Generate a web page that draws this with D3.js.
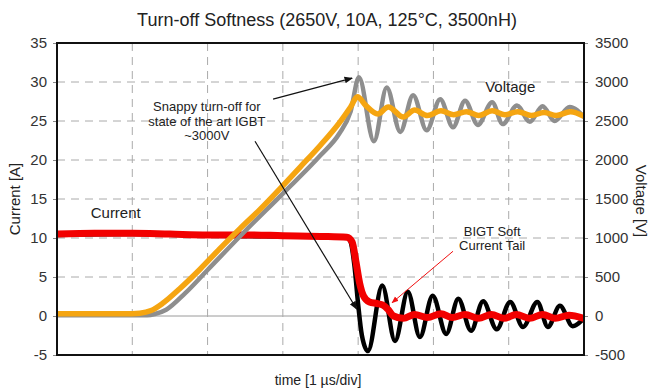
<!DOCTYPE html>
<html>
<head>
<meta charset="utf-8">
<script src="https://cdn.jsdelivr.net/npm/d3@7"></script>
<style>
  body { margin: 0; background: #fff; }
  svg { display: block; font-family: "Liberation Sans", Arial, sans-serif; }
</style>
</head>
<body>
<div id="chart"></div>
<script>
// ===============================================
// TURN-OFF SOFTNESS: BIGT vs state of the art IGBT
// ===============================================

// time axis, 1 us per division
const timeDivs = [0, 1, 2, 3, 4, 5, 6, 7];
const currentTicks = [-5, 0, 5, 10, 15, 20, 25, 30, 35];
const voltageTicks = [-500, 0, 500, 1000, 1500, 2000, 2500, 3000, 3500];

// IGBT voltage (grey), us / V
const igbtVoltT = [0, 1.2, 1.3, 1.45, 1.7, 2.0, 2.5, 3.0, 3.5, 3.75, 3.9, 4.01, 4.21, 4.38, 4.56, 4.73, 4.91, 5.09, 5.26, 5.42, 5.59, 5.78, 5.92, 6.11, 6.28, 6.45, 6.61, 6.81, 7.0];
const igbtVoltV = [10, 10, 25, 80, 290, 590, 1090, 1570, 2060, 2340, 2620, 3060, 2240, 2930, 2360, 2830, 2380, 2780, 2420, 2760, 2450, 2740, 2460, 2700, 2490, 2690, 2500, 2680, 2550];

// BIGT voltage (orange), us / V
const bigtVoltT = [0, 0.5, 1.0, 1.1, 1.25, 1.4, 1.63, 1.9, 2.16, 2.43, 2.7, 2.96, 3.23, 3.49, 3.76, 3.9, 3.99, 4.1, 4.26, 4.4, 4.6, 4.75, 4.92, 5.1, 5.27, 5.44, 5.6, 5.78, 5.95, 6.12, 6.3, 6.47, 6.63, 6.82, 7.0];
const bigtVoltV = [30, 30, 30, 35, 70, 160, 350, 600, 860, 1120, 1370, 1630, 1910, 2180, 2490, 2680, 2810, 2700, 2590, 2680, 2550, 2640, 2570, 2630, 2580, 2620, 2570, 2630, 2580, 2620, 2570, 2610, 2570, 2620, 2560];

// IGBT current (black), us / A
const igbtCurrT = [0, 1, 2, 3, 3.85, 3.9, 3.95, 4.0, 4.05, 4.13, 4.32, 4.49, 4.66, 4.82, 4.99, 5.17, 5.33, 5.5, 5.66, 5.84, 6.02, 6.19, 6.38, 6.52, 6.68, 6.85, 7.0];
const igbtCurrA = [10.4, 10.5, 10.3, 10.2, 10.1, 9.5, 6.5, 1.5, -2.5, -4.5, 3.9, -3.2, 3.1, -2.7, 2.6, -2.3, 2.2, -1.9, 1.9, -1.7, 1.8, -1.4, 1.8, -1.4, 1.3, -1.3, -0.3];

// BIGT current (red), us / A
const bigtCurrT = [0, 0.5, 1.0, 1.5, 2.0, 2.5, 3.0, 3.5, 3.85, 3.92, 3.97, 4.02, 4.07, 4.15, 4.25, 4.33, 4.4, 4.47, 4.6, 4.75, 4.92, 5.1, 5.25, 5.42, 5.6, 5.77, 5.94, 6.1, 6.28, 6.45, 6.62, 6.8, 7.0];
const bigtCurrA = [10.5, 10.6, 10.6, 10.5, 10.4, 10.4, 10.3, 10.2, 10.1, 9.5, 7.0, 4.2, 2.6, 1.8, 1.6, 1.4, 0.8, 0.0, -0.3, 0.2, -0.2, 0.3, -0.2, 0.2, -0.3, 0.2, -0.3, 0.2, -0.3, 0.2, -0.3, 0.1, -0.3];

(function() {
  'use strict';

  const width = 650;
  const height = 389;
  const margin = { top: 43, right: 66, bottom: 34, left: 57 };

  const svg = d3.select("#chart")
    .append("svg")
    .attr("width", width)
    .attr("height", height);

  const x = d3.scaleLinear().domain([0, 7]).range([margin.left, width - margin.right]);
  const yI = d3.scaleLinear().domain([-5, 35]).range([height - margin.bottom, margin.top]);
  const yV = d3.scaleLinear().domain([-500, 3500]).range([height - margin.bottom, margin.top]);

  // Arrowheads
  const defs = svg.append("defs");
  [["arrow-black", "#111"], ["arrow-red", "#f01010"]].forEach(([id, col]) => {
    defs.append("marker")
      .attr("id", id)
      .attr("viewBox", "0 0 10 10")
      .attr("refX", 9).attr("refY", 5)
      .attr("markerWidth", 7).attr("markerHeight", 7)
      .attr("orient", "auto")
      .append("path")
      .attr("d", "M0,1 L10,5 L0,9 z")
      .attr("fill", col);
  });
  defs.append("clipPath").attr("id", "plot-clip")
    .append("rect")
    .attr("x", margin.left).attr("y", margin.top)
    .attr("width", width - margin.left - margin.right)
    .attr("height", height - margin.top - margin.bottom);

  // Grid
  const grid = svg.append("g");
  grid.selectAll("line.h")
    .data(currentTicks.filter(d => d > -5 && d < 35))
    .join("line")
    .attr("x1", x(0)).attr("x2", x(7))
    .attr("y1", d => yI(d)).attr("y2", d => yI(d))
    .attr("stroke", d => d === 0 ? "#9a9a9a" : "#aaa")
    .attr("stroke-width", 1)
    .attr("stroke-dasharray", d => d === 0 ? null : "8,6");
  grid.selectAll("line.v")
    .data(timeDivs.filter(d => d > 0 && d < 7))
    .join("line")
    .attr("x1", d => x(d)).attr("x2", d => x(d))
    .attr("y1", yI(35)).attr("y2", yI(-5))
    .attr("stroke", "#aaa")
    .attr("stroke-width", 1)
    .attr("stroke-dasharray", "8,6");

  // Axes
  const fmt = d => String(d);
  const leftAxis = svg.append("g")
    .attr("transform", `translate(${margin.left},0)`)
    .call(d3.axisLeft(yI).tickValues(currentTicks).tickFormat(fmt).tickSize(4).tickPadding(6));
  const rightAxis = svg.append("g")
    .attr("transform", `translate(${width - margin.right},0)`)
    .call(d3.axisRight(yV).tickValues(voltageTicks).tickFormat(fmt).tickSize(4).tickPadding(7));
  [leftAxis, rightAxis].forEach(a => {
    a.select(".domain").remove();
    a.selectAll(".tick line").attr("stroke", "#888");
    a.selectAll(".tick text")
      .attr("fill", "#333")
      .attr("font-size", "15px")
      .attr("font-family", "Liberation Sans, Arial, sans-serif");
  });

  // Traces
  const lineI = d3.line().x(d => x(d[0])).y(d => yI(d[1])).curve(d3.curveMonotoneX);
  const lineV = d3.line().x(d => x(d[0])).y(d => yV(d[1])).curve(d3.curveMonotoneX);
  const zip = (a, b) => a.map((t, i) => [t, b[i]]);

  const traces = svg.append("g").attr("clip-path", "url(#plot-clip)");
  traces.append("path")
    .attr("d", lineI(zip(igbtCurrT, igbtCurrA)))
    .attr("fill", "none").attr("stroke", "#000").attr("stroke-width", 4.5)
    .attr("stroke-linejoin", "round");
  traces.append("path")
    .attr("d", lineI(zip(bigtCurrT, bigtCurrA)))
    .attr("fill", "none").attr("stroke", "#f20000").attr("stroke-width", 7)
    .attr("stroke-linejoin", "round");
  traces.append("path")
    .attr("d", lineV(zip(igbtVoltT, igbtVoltV)))
    .attr("fill", "none").attr("stroke", "#8e8e8e").attr("stroke-width", 4.5)
    .attr("stroke-linejoin", "round");
  traces.append("path")
    .attr("d", lineV(zip(bigtVoltT, bigtVoltV)))
    .attr("fill", "none").attr("stroke", "#f5a511").attr("stroke-width", 5.5)
    .attr("stroke-linejoin", "round");

  // Frame
  svg.append("rect")
    .attr("x", margin.left).attr("y", margin.top)
    .attr("width", width - margin.left - margin.right)
    .attr("height", height - margin.top - margin.bottom)
    .attr("fill", "none").attr("stroke", "#111").attr("stroke-width", 2);

  // Annotations (positions in data units: us, A)
  const arrows = [
    { from: [2.87, 27.8], to: [3.92, 30.5], color: "#111", marker: "arrow-black", w: 1.2 },
    { from: [2.63, 22.4], to: [3.98, 0.9], color: "#111", marker: "arrow-black", w: 1.2 },
    { from: [5.26, 8.3], to: [4.45, 1.7], color: "#f01010", marker: "arrow-red", w: 1 }
  ];
  svg.append("g").selectAll("line")
    .data(arrows)
    .join("line")
    .attr("x1", d => x(d.from[0])).attr("y1", d => yI(d.from[1]))
    .attr("x2", d => x(d.to[0])).attr("y2", d => yI(d.to[1]))
    .attr("stroke", d => d.color)
    .attr("stroke-width", d => d.w)
    .attr("marker-end", d => `url(#${d.marker})`);

  const notes = [
    { t: 1.99, a: 26.9, text: "Snappy turn-off for", size: 13 },
    { t: 1.99, a: 25.0, text: "state of the art IGBT", size: 13 },
    { t: 1.99, a: 23.1, text: "~3000V", size: 13 },
    { t: 6.02, a: 29.4, text: "Voltage", size: 15 },
    { t: 0.78, a: 13.3, text: "Current", size: 15 },
    { t: 5.78, a: 10.8, text: "BIGT Soft", size: 13 },
    { t: 5.78, a: 9.0, text: "Current Tail", size: 13 }
  ];
  svg.append("g").selectAll("text")
    .data(notes)
    .join("text")
    .attr("x", d => x(d.t))
    .attr("y", d => yI(d.a))
    .attr("dy", "0.35em")
    .attr("text-anchor", "middle")
    .attr("font-size", d => d.size + "px")
    .attr("fill", "#222")
    .text(d => d.text);

  // Titles
  svg.append("text")
    .attr("x", 327).attr("y", 20)
    .attr("dy", "0.35em")
    .attr("text-anchor", "middle")
    .attr("font-size", "18px")
    .attr("fill", "#222")
    .text("Turn-off Softness (2650V, 10A, 125°C, 3500nH)");

  svg.append("text")
    .attr("x", 318).attr("y", 380)
    .attr("dy", "0.35em")
    .attr("text-anchor", "middle")
    .attr("font-size", "14px")
    .attr("fill", "#222")
    .text("time [1 µs/div]");

  svg.append("text")
    .attr("transform", `translate(15,${(margin.top + height - margin.bottom) / 2}) rotate(-90)`)
    .attr("dy", "0.35em")
    .attr("text-anchor", "middle")
    .attr("font-size", "15px")
    .attr("fill", "#222")
    .text("Current [A]");

  svg.append("text")
    .attr("transform", `translate(641,${(margin.top + height - margin.bottom) / 2 + 2}) rotate(90)`)
    .attr("dy", "0.35em")
    .attr("text-anchor", "middle")
    .attr("font-size", "15px")
    .attr("fill", "#222")
    .text("Voltage [V]");
})();
</script>
</body>
</html>
